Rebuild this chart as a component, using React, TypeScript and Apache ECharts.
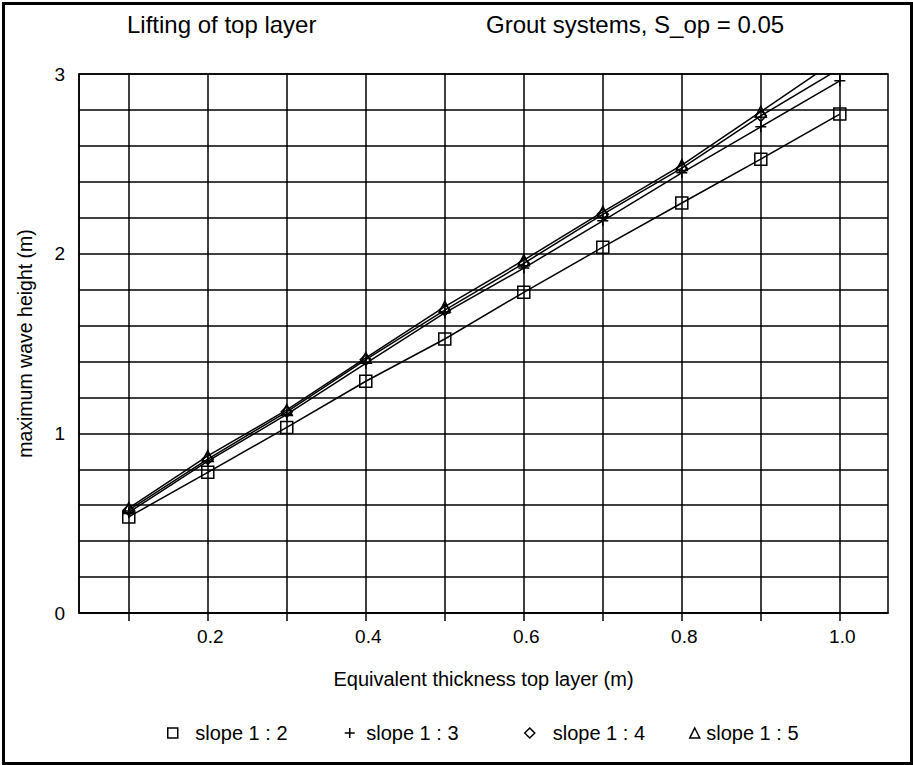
import React, { useEffect, useRef } from "react";
import * as echarts from "echarts";

const thickness = [0.1, 0.2, 0.3, 0.4, 0.5, 0.6, 0.7, 0.8, 0.9, 1.0];
const slope12 = [0.535, 0.783, 1.033, 1.29, 1.525, 1.785, 2.036, 2.282, 2.526, 2.777];
const slope13 = [0.56, 0.845, 1.105, 1.39, 1.67, 1.92, 2.183, 2.45, 2.706, 2.962];
const slope14 = [0.573, 0.857, 1.12, 1.41, 1.686, 1.946, 2.219, 2.476, 2.767, 3.03];
const slope15 = [0.584, 0.874, 1.13, 1.42, 1.705, 1.964, 2.233, 2.493, 2.79, 3.09];

const seriesNames = ["slope 1 : 2", "slope 1 : 3", "slope 1 : 4", "slope 1 : 5"];
const xTickValues = [0.1, 0.2, 0.3, 0.4, 0.5, 0.6, 0.7, 0.8, 0.9, 1.0];
const xLabelValues = [0.2, 0.4, 0.6, 0.8, 1.0];
const yLabelValues = [0, 1, 2, 3];

const titleLeft = "Lifting of top layer";
const titleRight = "Grout systems, S_op = 0.05";
const xName = "Equivalent thickness top layer (m)";
const yName = "maximum wave height (m)";

const FONT = "'Liberation Sans', Arial, Helvetica, sans-serif";

const SQUARE = "path://M0,0L10,0L10,10L0,10Z";
const PLUS = "path://M0,5L10,5M5,0L5,10";
const DIAMOND = "path://M5,0L10,5L5,10L0,5Z";
const TRIANGLE = "path://M5,0L10,10L0,10Z";

export default function App() {
  const ref = useRef<HTMLDivElement>(null);

  useEffect(() => {
    if (!ref.current) return;
    const chart = echarts.init(ref.current, undefined, { renderer: "svg" });

    const values = [slope12, slope13, slope14, slope15];
    const symbols = [SQUARE, PLUS, DIAMOND, TRIANGLE];
    const sizes = [12, 11, 11, 11];

    const series: any[] = values.map((vals, i) => ({
      name: seriesNames[i],
      type: "line",
      data: thickness.map((x, j) => [x, vals[j]]),
      symbol: symbols[i],
      symbolSize: sizes[i],
      showAllSymbol: true,
      clip: true,
      lineStyle: { color: "#000", width: 1.5 },
      itemStyle: { color: "rgba(0,0,0,0)", borderColor: "#000", borderWidth: 1.5 },
      emphasis: { disabled: true },
      z: 3,
    }));

    series[0].markLine = {
      silent: true,
      symbol: ["none", "none"],
      label: { show: false },
      emphasis: { disabled: true },
      lineStyle: { color: "#000", width: 1.5, type: "solid" },
      data: xTickValues.map((v) => ({ xAxis: v })),
      z: 1,
    };

    const legendDefs = [
      { left: 167, width: 35 },
      { left: 344, width: 23 },
      { left: 524, width: 36 },
      { left: 689, width: 13 },
    ];

    const legends = legendDefs.map((d, i) => ({
      show: true,
      left: d.left,
      top: 723,
      padding: 0,
      orient: "horizontal",
      itemWidth: d.width,
      itemHeight: 10,
      symbolKeepAspect: true,
      selectedMode: false,
      data: [{ name: seriesNames[i], icon: symbols[i] }],
      itemStyle: { color: "rgba(0,0,0,0)", borderColor: "#000", borderWidth: 1.5 },
      textStyle: { fontFamily: FONT, fontSize: 20, color: "#000" },
    }));

    chart.setOption({
      animation: false,
      backgroundColor: "#fff",
      title: [
        {
          text: titleLeft,
          left: 127,
          top: 12,
          padding: 0,
          textStyle: { fontFamily: FONT, fontSize: 24, fontWeight: "normal", color: "#000" },
        },
        {
          text: titleRight,
          left: 486,
          top: 12,
          padding: 0,
          textStyle: { fontFamily: FONT, fontSize: 24, fontWeight: "normal", color: "#000" },
        },
      ],
      legend: legends,
      grid: {
        left: 79,
        right: 25,
        top: 74,
        bottom: 152,
        containLabel: false,
        show: true,
        borderColor: "#000",
        borderWidth: 1.5,
        backgroundColor: "rgba(0,0,0,0)",
      },
      xAxis: {
        type: "value",
        min: 0.037,
        max: 1.061,
        name: xName,
        nameLocation: "middle",
        nameGap: 56,
        nameTextStyle: { fontFamily: FONT, fontSize: 20, color: "#000" },
        axisLine: { show: true, lineStyle: { color: "#000", width: 1.5 } },
        axisTick: {
          show: true,
          customValues: xTickValues,
          length: 8,
          inside: false,
          lineStyle: { color: "#000", width: 1.5 },
        },
        axisLabel: {
          customValues: xLabelValues,
          formatter: (v: number) => v.toFixed(1),
          fontFamily: FONT,
          fontSize: 19,
          color: "#000",
          margin: 14,
          padding: [0, 0, 0, 5],
        },
        splitLine: { show: false },
      },
      yAxis: {
        type: "value",
        min: 0,
        max: 3,
        interval: 0.2,
        name: yName,
        nameLocation: "middle",
        nameGap: 44,
        nameRotate: 90,
        nameTextStyle: { fontFamily: FONT, fontSize: 19.5, color: "#000" },
        axisLine: { show: true, lineStyle: { color: "#000", width: 1.5 } },
        axisTick: { show: false },
        axisLabel: {
          customValues: yLabelValues,
          formatter: (v: number) => String(Math.round(v)),
          fontFamily: FONT,
          fontSize: 19,
          color: "#000",
          margin: 14,
          padding: [6, 0, 0, 0],
        },
        splitLine: { show: true, lineStyle: { color: "#000", width: 1.5 } },
      },
      graphic: [
        {
          type: "rect",
          silent: true,
          shape: { x: 3.5, y: 3.5, width: 908, height: 760 },
          style: { fill: "none", stroke: "#000", lineWidth: 3 },
          z: 100,
        },
      ],
      series,
    });

    return () => chart.dispose();
  }, []);

  return (
    <div
      ref={ref}
      style={{ position: "absolute", left: 0, top: 0, width: 913, height: 765, background: "#fff" }}
    />
  );
}
